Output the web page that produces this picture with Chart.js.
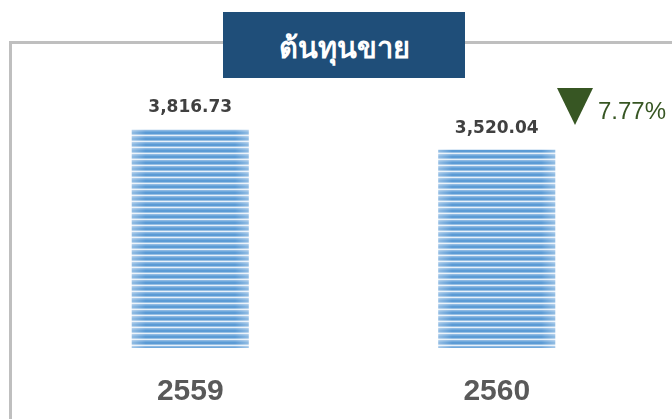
<!DOCTYPE html>
<html>
<head>
<meta charset="utf-8">
<script src="https://cdn.jsdelivr.net/npm/chart.js@4.4.1/dist/chart.umd.min.js"></script>
<style>
  html, body { margin: 0; padding: 0; background: #fff; }
  #wrap { position: relative; width: 672px; height: 419px; overflow: hidden; }
  #frame {
    position: absolute; left: 9px; top: 41px; width: 700px; height: 420px;
    border: 3px solid #BFBFBF; box-sizing: border-box;
  }
  #chart { position: absolute; left: 0; top: 0; }
  #title {
    position: absolute; left: 223px; top: 12px; width: 242px; height: 66px;
    background: #1F4E79; color: #fff; text-align: center;
    font: bold 29px "Tahoma", "DejaVu Sans", sans-serif; line-height: 72px;
  }
</style>
</head>
<body>
<div id="wrap">
  <div id="frame"></div>
  <canvas id="chart" width="672" height="419"></canvas>
  <div id="title">ต้นทุนขาย</div>
</div>
<script>
// data
const years = ["2559", "2560"];
const costOfSales = [3816.73, 3520.04];
const changePct = "7.77%";

const barFill = ["#5B9BD5", "#5B9BD5", "#9DC3E6", "#E6F0F9", "#8DB9E3", "#6FA8DC"];

// striped fill, shifted so each bar gets its own lighter edges
function stripePattern(ctx2d, left, width) {
  const c = document.createElement("canvas");
  c.width = Math.round(width);
  c.height = barFill.length;
  const g = c.getContext("2d");
  barFill.forEach((col, i) => {
    g.fillStyle = col;
    g.fillRect(0, i, c.width, 1);
  });
  const grad = g.createLinearGradient(0, 0, c.width, 0);
  grad.addColorStop(0, "rgba(255,255,255,0.35)");
  grad.addColorStop(0.12, "rgba(255,255,255,0)");
  grad.addColorStop(0.88, "rgba(255,255,255,0)");
  grad.addColorStop(1, "rgba(255,255,255,0.35)");
  g.fillStyle = grad;
  g.fillRect(0, 0, c.width, c.height);
  const p = ctx2d.createPattern(c, "repeat");
  p.setTransform(new DOMMatrix().translate(left, 0));
  return p;
}

const valueLabels = {
  id: "valueLabels",
  afterDatasetsDraw(chart) {
    const ctx = chart.ctx;
    const meta = chart.getDatasetMeta(0);
    ctx.save();
    ctx.font = "bold 17px 'DejaVu Sans', sans-serif";
    ctx.fillStyle = "#404040";
    ctx.textAlign = "center";
    ctx.textBaseline = "middle";
    meta.data.forEach((bar, i) => {
      const txt = costOfSales[i].toLocaleString("en-US", { minimumFractionDigits: 2, maximumFractionDigits: 2 });
      ctx.fillText(txt, bar.x, bar.y - 21);
    });

    // change marker
    ctx.fillStyle = "#375623";
    ctx.beginPath();
    ctx.moveTo(557, 88);
    ctx.lineTo(593, 88);
    ctx.lineTo(575, 125);
    ctx.closePath();
    ctx.fill();
    ctx.font = "24px 'Liberation Sans', Arial, sans-serif";
    ctx.textAlign = "left";
    ctx.fillText(changePct, 598, 112);
    ctx.restore();
  }
};

new Chart(document.getElementById("chart"), {
  type: "bar",
  data: {
    labels: years,
    datasets: [{
      label: "ต้นทุนขาย",
      data: costOfSales,
      backgroundColor: (c) => {
        const chart = c.chart;
        if (c.dataIndex === undefined || !chart.scales.x) return "#7FB0DF";
        const w = 117;
        const x = chart.scales.x.getPixelForValue(c.dataIndex);
        return stripePattern(chart.ctx, x - w / 2, w);
      },
      borderWidth: 0,
      categoryPercentage: 0.382,
      barPercentage: 1
    }]
  },
  options: {
    responsive: false,
    animation: false,
    layout: { padding: { left: 37, right: 22, top: 50, bottom: 9 } },
    plugins: { legend: { display: false }, tooltip: { enabled: false } },
    scales: {
      x: {
        grid: { display: false, drawTicks: false },
        border: { display: false },
        afterFit: (scale) => { scale.height = 62; },
        ticks: {
          color: "#595959",
          padding: 26,
          font: { family: "'Liberation Sans', Arial, sans-serif", size: 30, weight: "bold" }
        }
      },
      y: { display: false, min: 700, max: 4940 }
    }
  },
  plugins: [valueLabels]
});
</script>
</body>
</html>
